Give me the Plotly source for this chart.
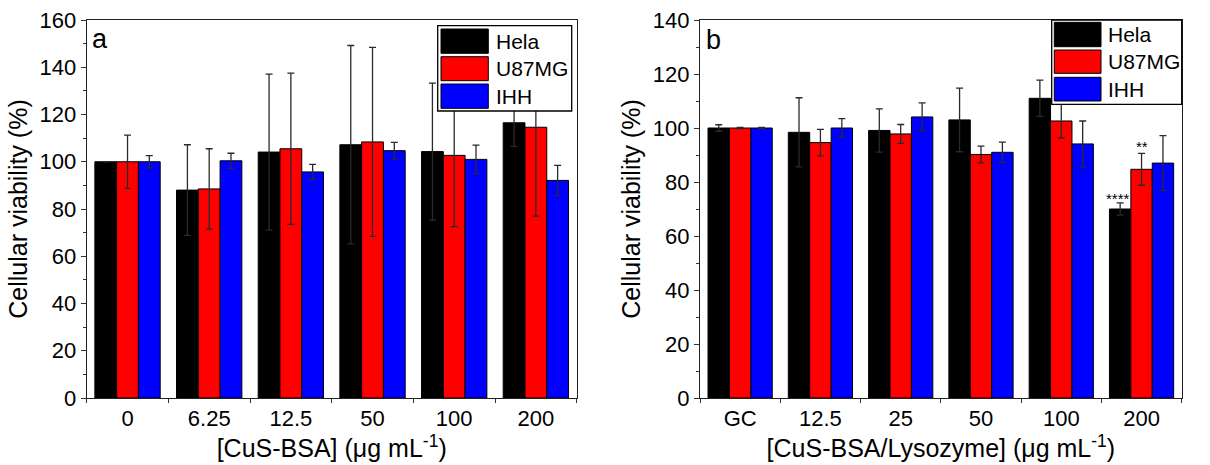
import plotly.graph_objects as go

# ---- data ----
cats_a = ["0", "6.25", "12.5", "50", "100", "200"]
hela_a = [100, 88.0, 104.1, 107.2, 104.3, 116.5]
hela_a_err = [0, 19.2, 33.0, 42.0, 29.0, 10.0]
u87_a = [100, 88.5, 105.5, 108.4, 102.7, 114.6]
u87_a_err = [11.3, 17.0, 32.0, 40.0, 30.2, 37.6]
ihh_a = [100, 100.4, 95.7, 104.7, 101.0, 92.1]
ihh_a_err = [2.6, 3.2, 3.2, 3.5, 6.0, 6.4]

cats_b = ["GC", "12.5", "25", "50", "100", "200"]
hela_b = [100, 98.4, 99.1, 103.0, 111.0, 70.0]
hela_b_err = [1.2, 12.8, 8.0, 11.8, 6.7, 2.3]
u87_b = [100, 94.6, 97.8, 90.2, 102.6, 84.7]
u87_b_err = [0.2, 4.9, 3.5, 3.1, 6.3, 5.9]
ihh_b = [100, 100, 104.1, 91.0, 94.1, 87.0]
ihh_b_err = [0.2, 3.5, 5.2, 3.8, 8.5, 10.2]

series_names = ["Hela", "U87MG", "IHH"]
series_colors = ["#000000", "#FF0000", "#0000FF"]

W, H = 1210, 465
TOP, BOT = 20, 398
FONT = "Liberation Sans, Arial, sans-serif"

fig = go.Figure()

def add_bars(cats, vals, errs, xa, ya):
    for name, col, v, e in zip(series_names, series_colors, vals, errs):
        fig.add_trace(go.Bar(
            x=cats, y=v, name=name, xaxis=xa, yaxis=ya, showlegend=False,
            marker=dict(color=col, line=dict(color="#000000", width=1)),
            error_y=dict(type="data", array=e, color="#2a2a2a", thickness=1.3, width=3.5),
        ))

add_bars(cats_a, [hela_a, u87_a, ihh_a], [hela_a_err, u87_a_err, ihh_a_err], "x", "y")
add_bars(cats_b, [hela_b, u87_b, ihh_b], [hela_b_err, u87_b_err, ihh_b_err], "x2", "y2")

def px_x(p):
    return p / W

def px_y(p):
    return (BOT - p) / (BOT - TOP)

axis_common = dict(
    showline=True, linecolor="#222", linewidth=1.3, mirror=True,
    showgrid=False, zeroline=False, automargin=False,
    tickfont=dict(family=FONT, size=22, color="#000"),
    ticks="outside", tickcolor="#333", tickwidth=1.2,
)
TITLE_FONT = dict(family=FONT, size=25, color="#000")

n_cat = len(cats_a)
fig.update_layout(
    width=W, height=H,
    margin=dict(l=0, r=0, t=TOP, b=H - BOT, autoexpand=False),
    paper_bgcolor="white", plot_bgcolor="white",
    barmode="group", bargap=0.2, bargroupgap=0,
    font=dict(family=FONT, color="#000"),
    xaxis=dict(type="category", domain=[px_x(86.7), px_x(576.7)], anchor="y",
               range=[-0.5, n_cat - 0.5],
               tickson="boundaries", ticklen=4, tickangle=0,
               title=dict(text="[CuS-BSA] (μg mL<sup>-1</sup>)", font=TITLE_FONT, standoff=3),
               **axis_common),
    yaxis=dict(domain=[0, 1], anchor="x", range=[0, 160], dtick=20, ticklen=5,
               minor=dict(ticks="outside", dtick=10, ticklen=3, tickcolor="#333"),
               title=dict(text="Cellular viability (%)", font=TITLE_FONT, standoff=4),
               **axis_common),
    xaxis2=dict(type="category", domain=[px_x(700), px_x(1181.7)], anchor="y2",
                range=[-0.5, n_cat - 0.5],
                tickson="boundaries", ticklen=4, tickangle=0,
                title=dict(text="[CuS-BSA/Lysozyme] (μg mL<sup>-1</sup>)", font=TITLE_FONT, standoff=3),
                **axis_common),
    yaxis2=dict(domain=[0, 1], anchor="x2", range=[0, 140], dtick=20, ticklen=5,
                minor=dict(ticks="outside", dtick=10, ticklen=3, tickcolor="#333"),
                title=dict(text="Cellular viability (%)", font=TITLE_FONT, standoff=4),
                **axis_common),
)

shapes = []
annotations = []

def add_legend(box, sw_x, sw_rows, text_x):
    x0, y0, x1, y1 = box
    shapes.append(dict(type="rect", xref="paper", yref="paper", layer="above",
                       x0=px_x(x0), x1=px_x(x1), y0=px_y(y1), y1=px_y(y0),
                       fillcolor="white", line=dict(color="#000", width=1.3)))
    for (ry0, ry1), name, col in zip(sw_rows, series_names, series_colors):
        shapes.append(dict(type="rect", xref="paper", yref="paper", layer="above",
                           x0=px_x(sw_x[0]), x1=px_x(sw_x[1]), y0=px_y(ry1), y1=px_y(ry0),
                           fillcolor=col, line=dict(color="#000", width=1)))
        annotations.append(dict(xref="paper", yref="paper", x=px_x(text_x), y=px_y((ry0 + ry1) / 2),
                                text=name, showarrow=False, xanchor="left", yanchor="middle",
                                font=dict(family=FONT, size=21, color="#000")))

add_legend((437.7, 25.7, 571.7, 111), (441, 488.3),
           [(29, 53.3), (56.7, 80.7), (84, 108.3)], 494)
add_legend((1051.7, 20, 1181.7, 104.3), (1054.3, 1101),
           [(22.3, 46.7), (50, 73.3), (77.3, 101)], 1106)

annotations.append(dict(xref="paper", yref="paper", x=px_x(90), y=px_y(39), text="a",
                        showarrow=False, xanchor="left", yanchor="middle",
                        font=dict(family=FONT, size=27, color="#000")))
annotations.append(dict(xref="paper", yref="paper", x=px_x(704), y=px_y(40), text="b",
                        showarrow=False, xanchor="left", yanchor="middle",
                        font=dict(family=FONT, size=27, color="#000")))

# significance marks (category index of "200")
idx200 = cats_b.index("200")
annotations.append(dict(xref="x2", yref="y2", x=idx200, y=hela_b[idx200] + hela_b_err[idx200],
                        text="****", showarrow=False, xshift=-24, yanchor="bottom", yshift=-6,
                        font=dict(family=FONT, size=15, color="#000")))
annotations.append(dict(xref="x2", yref="y2", x=idx200, y=u87_b[idx200] + u87_b_err[idx200],
                        text="**", showarrow=False, xshift=0, yanchor="bottom", yshift=-4,
                        font=dict(family=FONT, size=15, color="#000")))

fig.update_layout(shapes=shapes, annotations=annotations)

fig.write_html("out.html", config={"displayModeBar": False},
               post_script="document.body.style.margin='0';document.body.style.overflow='hidden';")
